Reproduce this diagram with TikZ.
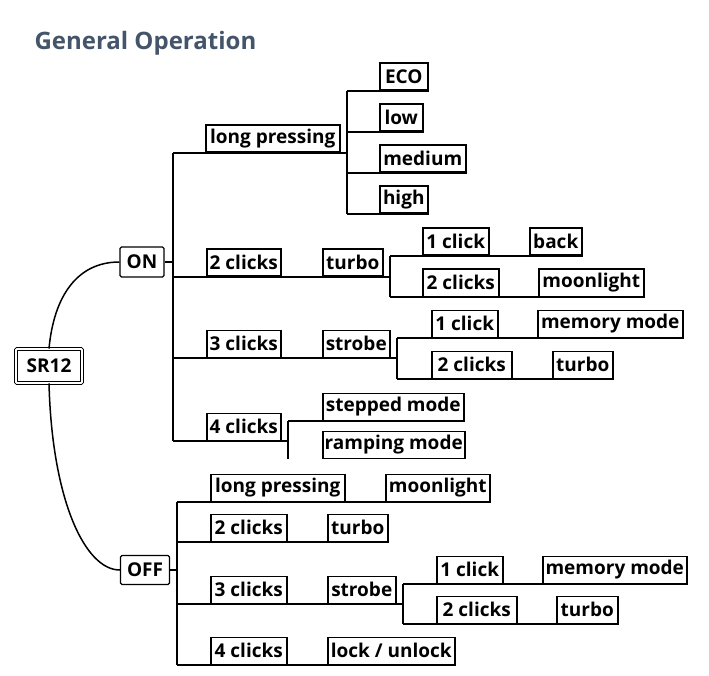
\documentclass[tikz,border=0pt]{standalone}
\usepackage{fontspec}
\setmainfont{Open Sans}
\definecolor{titlec}{HTML}{44546A}
\begin{document}
\begin{tikzpicture}[x=1pt,y=-1pt,
  bx/.style={draw, line width=1.5pt, anchor=south west, minimum height=27pt,
    inner xsep=0pt, inner ysep=0pt, font=\fontsize{19}{22}\selectfont\bfseries},
  rb/.style={draw, line width=1.3pt, rounded corners=1.5pt, inner sep=0pt,
    font=\fontsize{19}{22}\selectfont\bfseries},
  ln/.style={line width=1.5pt},
]
\useasboundingbox (0,0) rectangle (709,676);
\node[anchor=base west, text=titlec, font=\fontsize{24}{28}\selectfont\bfseries] (title) at (31,50) {General Operation};

% root and main branches
\node[rb, double, double distance=1.8pt, line width=0.9pt, rounded corners=1pt,
  minimum width=66pt, minimum height=34pt] (sr) at (49,366) {SR12};
\node[rb, minimum width=44pt, minimum height=30pt] (on) at (142,262) {ON};
\node[rb, minimum width=49pt, minimum height=29pt] (off) at (145,570) {OFF};
\draw[ln] (sr.north) .. controls (54,295) and (78,262) .. (on.west);
\draw[ln] (sr.south) .. controls (52,500) and (85,570) .. (off.west);

% ===== ON tree =====
\coordinate (onT) at (173,153);
\coordinate (onB) at (173,441);
\draw[ln] (onT) -- (onB);
\draw[ln] (on.east) -- (onT |- on.east);

% long pressing
\node[bx, minimum width=134pt] (lp) at (205,153) {long pressing};
\coordinate (lpT) at (347,91);
\coordinate (lpB) at (347,214);
\draw[ln] (lpT) -- (lpB);
\draw[ln] (onT) -- (lpT |- onT);
\node[bx, minimum width=48pt] (eco) at (379,91) {ECO};
\node[bx, minimum width=43pt] (low) at (379,132) {low};
\node[bx, minimum width=86pt] (med) at (379,173) {medium};
\node[bx, minimum width=48pt] (high) at (379,214) {high};
\draw[ln] (lpT) -- (eco.south east);
\draw[ln] (lpT |- low.south) -- (low.south east);
\draw[ln] (lpT |- med.south) -- (med.south east);
\draw[ln] (lpB) -- (high.south east);

% 2 clicks
\node[bx, minimum width=74pt] (onc2) at (206,277) {2 clicks};
\node[bx, minimum width=60pt] (ontu) at (322,277) {turbo};
\coordinate (tuT) at (390,256);
\coordinate (tuB) at (390,297);
\draw[ln] (onT |- onc2.south) -- (tuT |- onc2.south);
\draw[ln] (tuT) -- (tuB);
\node[bx, minimum width=66pt] (tuc1) at (422,256) {1 click};
\node[bx, minimum width=52pt] (back) at (529,256) {back};
\node[bx, minimum width=76pt] (tuc2) at (422,297) {2 clicks};
\node[bx, minimum width=105pt] (moon) at (538,297) {moonlight};
\draw[ln] (tuT) -- (back.south east);
\draw[ln] (tuB) -- (moon.south east);

% 3 clicks
\node[bx, minimum width=74pt] (onc3) at (206,358) {3 clicks};
\node[bx, minimum width=67pt] (onst) at (322,358) {strobe};
\coordinate (stT) at (397,338);
\coordinate (stB) at (397,379);
\draw[ln] (onT |- onc3.south) -- (stT |- onc3.south);
\draw[ln] (stT) -- (stB);
\node[bx, minimum width=66pt] (stc1) at (431,338) {1 click};
\node[bx, minimum width=145pt] (mem) at (537,338) {memory mode};
\node[bx, minimum width=80pt] (stc2) at (431,379) {2 clicks};
\node[bx, minimum width=60pt] (sttu) at (552,379) {turbo};
\draw[ln] (stT) -- (mem.south east);
\draw[ln] (stB) -- (sttu.south east);

% 4 clicks
\node[bx, minimum width=74pt] (onc4) at (206,441) {4 clicks};
\coordinate (smT) at (288,421);
\coordinate (smB) at (288,459);
\draw[ln] (onB) -- (smT |- onB);
\draw[ln] (smT) -- (smB);
\node[bx, minimum width=141pt] (step) at (322,421) {stepped mode};
\node[bx, minimum width=142pt] (ramp) at (322,459) {ramping mode};
\draw[ln] (smT) -- (step.south east);

% ===== OFF tree =====
\coordinate (offT) at (177,502);
\coordinate (offB) at (177,665);
\draw[ln] (offT) -- (offB);
\draw[ln] (off.east) -- (offT |- off.east);

\node[bx, minimum width=134pt] (olp) at (210,502) {long pressing};
\node[bx, minimum width=104pt] (omoon) at (385,502) {moonlight};
\draw[ln] (offT) -- (omoon.south east);

\node[bx, minimum width=76pt] (oc2) at (210,542) {2 clicks};
\node[bx, minimum width=60pt] (otu) at (327,542) {turbo};
\draw[ln] (offT |- oc2.south) -- (otu.south east);

\node[bx, minimum width=76pt] (oc3) at (210,604) {3 clicks};
\node[bx, minimum width=68pt] (ost) at (327,604) {strobe};
\coordinate (osT) at (403,584);
\coordinate (osB) at (403,624);
\draw[ln] (offT |- oc3.south) -- (osT |- oc3.south);
\draw[ln] (osT) -- (osB);
\node[bx, minimum width=66pt] (osc1) at (436,584) {1 click};
\node[bx, minimum width=144pt] (omem) at (542,584) {memory mode};
\node[bx, minimum width=80pt] (osc2) at (436,624) {2 clicks};
\node[bx, minimum width=61pt] (ostu) at (556,624) {turbo};
\draw[ln] (osT) -- (omem.south east);
\draw[ln] (osB) -- (ostu.south east);

\node[bx, minimum width=76pt] (oc4) at (210,665) {4 clicks};
\node[bx, minimum width=127pt] (lock) at (327,665) {lock / unlock};
\draw[ln] (offB) -- (lock.south east);
\end{tikzpicture}
\end{document}
